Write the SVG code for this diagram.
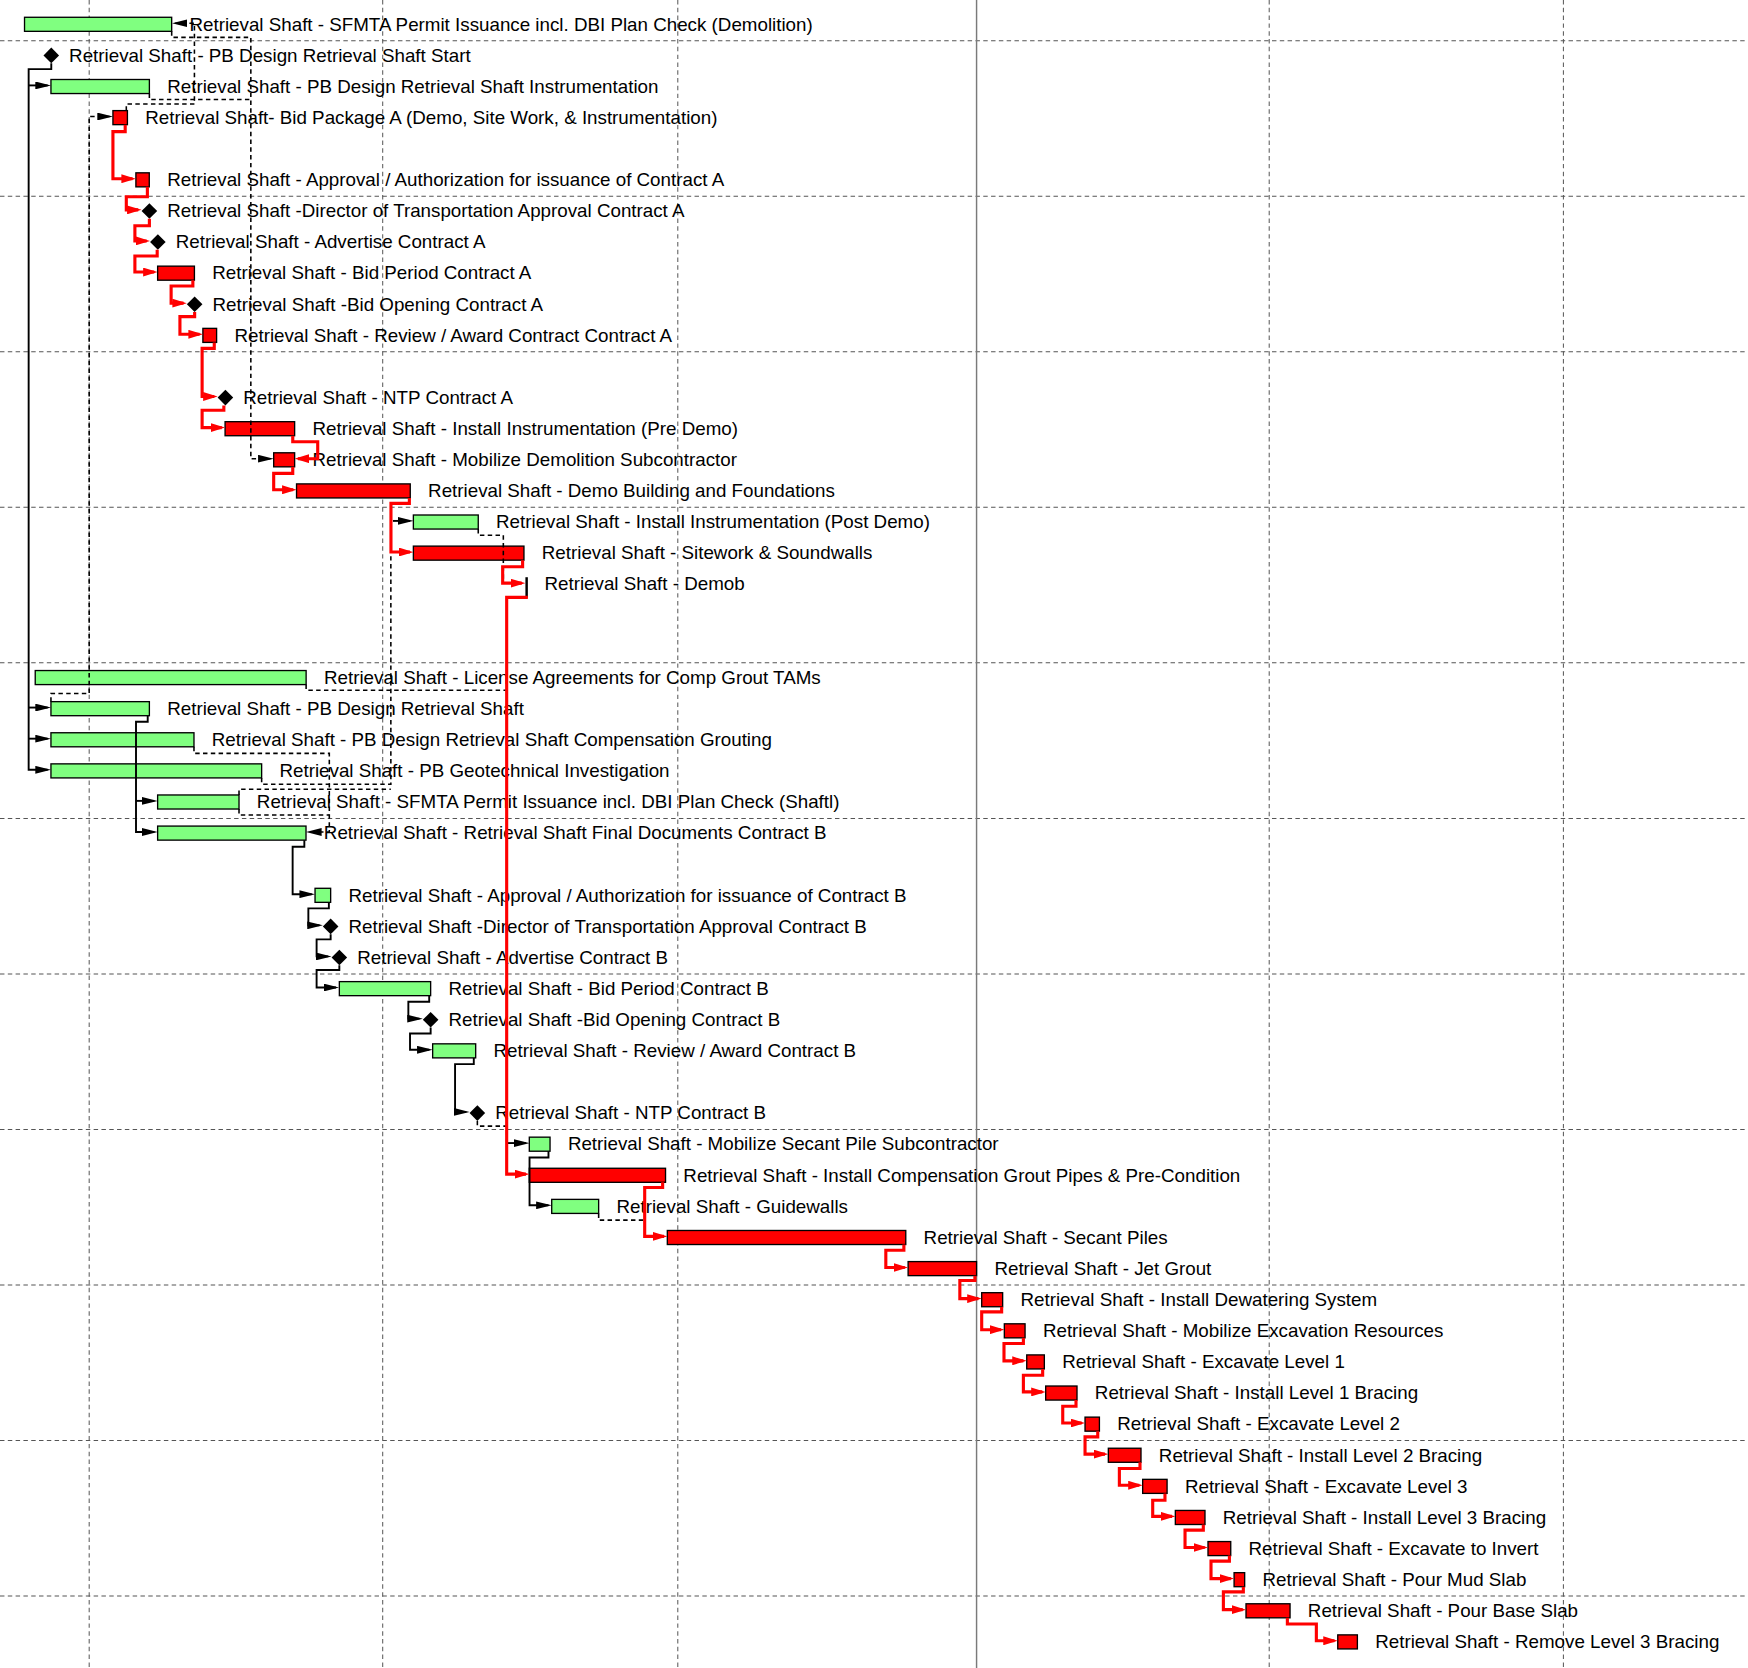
<svg xmlns="http://www.w3.org/2000/svg" width="1748" height="1668" viewBox="0 0 1748 1668">
<style>
.gl{stroke:#555;stroke-width:0.9;stroke-dasharray:4 3;fill:none}
.now{stroke:#7a7a7a;stroke-width:1.3;fill:none}
.g{fill:#80ff80;stroke:#000;stroke-width:1.2}
.r{fill:#ff0000;stroke:#000;stroke-width:1.2}
.ms{fill:#000}
text{font-family:"Liberation Sans",Arial,Helvetica,sans-serif;font-size:16.85px;fill:#000}
.lk{stroke:#000;stroke-width:1.7;fill:none;stroke-linejoin:miter}
.lkd{stroke:#000;stroke-width:1.4;fill:none;stroke-dasharray:4 3}
.cr{stroke:#ff0000;stroke-width:2.8;fill:none;stroke-linejoin:miter}
.ek{marker-end:url(#ak)}
.er{marker-end:url(#ar)}
</style>
<defs>
<marker id="ak" viewBox="0 0 14 7" refX="11" refY="3.5" markerWidth="14" markerHeight="7" markerUnits="userSpaceOnUse" orient="auto"><path d="M0,0 L14,3.5 L0,7 z" fill="#000"/></marker>
<marker id="ar" viewBox="0 0 13 8" refX="10" refY="4" markerWidth="13" markerHeight="8" markerUnits="userSpaceOnUse" orient="auto"><path d="M0,0 L13,4 L0,8 z" fill="#ff0000"/></marker>
</defs>
<rect x="0" y="0" width="1748" height="1668" fill="#fff"/>
<g transform="scale(1.11480 1.11497)">
<g id="grid">
<path class="gl" d="M80,0V1496M343.3,0V1496M608,0V1496M1138.5,0V1496M1402.4,0V1496"/>
<path class="gl" d="M0,36.5H1568M0,176H1568M0,315.5H1568M0,455H1568M0,594.5H1568M0,734H1568M0,873.5H1568M0,1013H1568M0,1152.5H1568M0,1292H1568M0,1431.5H1568"/>
<path class="now" d="M876,0V1496"/>
</g>
<g id="nodes">
<g id="n0"><rect class="g" x="22" y="15.5" width="132" height="12.6"/><text x="170" y="27.4">Retrieval Shaft - SFMTA Permit Issuance incl. DBI Plan Check (Demolition)</text></g>
<g id="n1"><polygon class="ms" points="39,49.7 46,42.7 53,49.7 46,56.7"/><text x="62" y="55.3">Retrieval Shaft - PB Design Retrieval Shaft Start</text></g>
<g id="n2"><rect class="g" x="45.7" y="71.3" width="88.3" height="12.6"/><text x="150" y="83.2">Retrieval Shaft - PB Design Retrieval Shaft Instrumentation</text></g>
<g id="n3"><rect class="r" x="101.3" y="99.2" width="13" height="12.6"/><text x="130.3" y="111.1">Retrieval Shaft- Bid Package A (Demo, Site Work, &amp; Instrumentation)</text></g>
<g id="n5"><rect class="r" x="121.9" y="155" width="12" height="12.6"/><text x="150" y="166.9">Retrieval Shaft - Approval / Authorization for issuance of Contract A</text></g>
<g id="n6"><polygon class="ms" points="127,189.2 134,182.2 141,189.2 134,196.2"/><text x="150" y="194.8">Retrieval Shaft -Director of Transportation Approval Contract A</text></g>
<g id="n7"><polygon class="ms" points="134.6,217.1 141.6,210.1 148.6,217.1 141.6,224.1"/><text x="157.6" y="222.7">Retrieval Shaft - Advertise Contract A</text></g>
<g id="n8"><rect class="r" x="141.4" y="238.7" width="33" height="12.6"/><text x="190.4" y="250.6">Retrieval Shaft - Bid Period Contract A</text></g>
<g id="n9"><polygon class="ms" points="167.6,272.9 174.6,265.9 181.6,272.9 174.6,279.9"/><text x="190.6" y="278.5">Retrieval Shaft -Bid Opening Contract A</text></g>
<g id="n10"><rect class="r" x="182" y="294.5" width="12.3" height="12.6"/><text x="210.3" y="306.4">Retrieval Shaft - Review / Award Contract Contract A</text></g>
<g id="n12"><polygon class="ms" points="195.2,356.6 202.2,349.6 209.2,356.6 202.2,363.6"/><text x="218.2" y="362.2">Retrieval Shaft - NTP Contract A</text></g>
<g id="n13"><rect class="r" x="201.9" y="378.2" width="62.4" height="12.6"/><text x="280.3" y="390.1">Retrieval Shaft - Install Instrumentation (Pre Demo)</text></g>
<g id="n14"><rect class="r" x="245.5" y="406.1" width="18.8" height="12.6"/><text x="280.3" y="418">Retrieval Shaft - Mobilize Demolition Subcontractor</text></g>
<g id="n15"><rect class="r" x="266" y="434" width="102" height="12.6"/><text x="384" y="445.9">Retrieval Shaft - Demo Building and Foundations</text></g>
<g id="n16"><rect class="g" x="370.8" y="461.9" width="58.2" height="12.6"/><text x="445" y="473.8">Retrieval Shaft - Install Instrumentation (Post Demo)</text></g>
<g id="n17"><rect class="r" x="370.8" y="489.8" width="99.2" height="12.6"/><text x="486" y="501.7">Retrieval Shaft - Sitework &amp; Soundwalls</text></g>
<g id="n18"><rect class="ms" x="471.3" y="517.7" width="2.2" height="18.3"/><text x="488.4" y="529.6">Retrieval Shaft - Demob</text></g>
<g id="n21"><rect class="g" x="31.6" y="601.4" width="243" height="12.6"/><text x="290.6" y="613.3">Retrieval Shaft - License Agreements for Comp Grout TAMs</text></g>
<g id="n22"><rect class="g" x="45.7" y="629.3" width="88.3" height="12.6"/><text x="150" y="641.2">Retrieval Shaft - PB Design Retrieval Shaft</text></g>
<g id="n23"><rect class="g" x="45.7" y="657.2" width="128.3" height="12.6"/><text x="190" y="669.1">Retrieval Shaft - PB Design Retrieval Shaft Compensation Grouting</text></g>
<g id="n24"><rect class="g" x="45.7" y="685.1" width="189" height="12.6"/><text x="250.7" y="697">Retrieval Shaft - PB Geotechnical Investigation</text></g>
<g id="n25"><rect class="g" x="141.4" y="713" width="73" height="12.6"/><text x="230.4" y="724.9">Retrieval Shaft - SFMTA Permit Issuance incl. DBI Plan Check (Shaftl)</text></g>
<g id="n26"><rect class="g" x="141.4" y="740.9" width="133.1" height="12.6"/><text x="290.5" y="752.8">Retrieval Shaft - Retrieval Shaft Final Documents Contract B</text></g>
<g id="n28"><rect class="g" x="282.6" y="796.7" width="14" height="12.6"/><text x="312.6" y="808.6">Retrieval Shaft - Approval / Authorization for issuance of Contract B</text></g>
<g id="n29"><polygon class="ms" points="289.6,830.9 296.6,823.9 303.6,830.9 296.6,837.9"/><text x="312.6" y="836.5">Retrieval Shaft -Director of Transportation Approval Contract B</text></g>
<g id="n30"><polygon class="ms" points="297.4,858.8 304.4,851.8 311.4,858.8 304.4,865.8"/><text x="320.4" y="864.4">Retrieval Shaft - Advertise Contract B</text></g>
<g id="n31"><rect class="g" x="304.4" y="880.4" width="81.9" height="12.6"/><text x="402.3" y="892.3">Retrieval Shaft - Bid Period Contract B</text></g>
<g id="n32"><polygon class="ms" points="379.3,914.6 386.3,907.6 393.3,914.6 386.3,921.6"/><text x="402.3" y="920.2">Retrieval Shaft -Bid Opening Contract B</text></g>
<g id="n33"><rect class="g" x="388.1" y="936.2" width="38.6" height="12.6"/><text x="442.7" y="948.1">Retrieval Shaft - Review / Award Contract B</text></g>
<g id="n35"><polygon class="ms" points="421.2,998.3 428.2,991.3 435.2,998.3 428.2,1005.3"/><text x="444.2" y="1003.9">Retrieval Shaft - NTP Contract B</text></g>
<g id="n36"><rect class="g" x="474.8" y="1019.9" width="18.6" height="12.6"/><text x="509.4" y="1031.8">Retrieval Shaft - Mobilize Secant Pile Subcontractor</text></g>
<g id="n37"><rect class="r" x="474.8" y="1047.8" width="122.2" height="12.6"/><text x="613" y="1059.7">Retrieval Shaft - Install Compensation Grout Pipes &amp; Pre-Condition</text></g>
<g id="n38"><rect class="g" x="494.9" y="1075.7" width="42.1" height="12.6"/><text x="553" y="1087.6">Retrieval Shaft - Guidewalls</text></g>
<g id="n39"><rect class="r" x="598.6" y="1103.6" width="213.9" height="12.6"/><text x="828.5" y="1115.5">Retrieval Shaft - Secant Piles</text></g>
<g id="n40"><rect class="r" x="814.6" y="1131.5" width="61.4" height="12.6"/><text x="892" y="1143.4">Retrieval Shaft - Jet Grout</text></g>
<g id="n41"><rect class="r" x="880.6" y="1159.4" width="18.8" height="12.6"/><text x="915.4" y="1171.3">Retrieval Shaft - Install Dewatering System</text></g>
<g id="n42"><rect class="r" x="900.9" y="1187.3" width="18.6" height="12.6"/><text x="935.5" y="1199.2">Retrieval Shaft - Mobilize Excavation Resources</text></g>
<g id="n43"><rect class="r" x="921" y="1215.2" width="15.8" height="12.6"/><text x="952.8" y="1227.1">Retrieval Shaft - Excavate Level 1</text></g>
<g id="n44"><rect class="r" x="938" y="1243.1" width="28.1" height="12.6"/><text x="982.1" y="1255">Retrieval Shaft - Install Level 1 Bracing</text></g>
<g id="n45"><rect class="r" x="973.3" y="1271" width="12.9" height="12.6"/><text x="1002.2" y="1282.9">Retrieval Shaft - Excavate Level 2</text></g>
<g id="n46"><rect class="r" x="994.2" y="1298.9" width="29.3" height="12.6"/><text x="1039.5" y="1310.8">Retrieval Shaft - Install Level 2 Bracing</text></g>
<g id="n47"><rect class="r" x="1025" y="1326.8" width="21.9" height="12.6"/><text x="1062.9" y="1338.7">Retrieval Shaft - Excavate Level 3</text></g>
<g id="n48"><rect class="r" x="1054.3" y="1354.7" width="26.6" height="12.6"/><text x="1096.9" y="1366.6">Retrieval Shaft - Install Level 3 Bracing</text></g>
<g id="n49"><rect class="r" x="1083.6" y="1382.6" width="20.4" height="12.6"/><text x="1120" y="1394.5">Retrieval Shaft - Excavate to Invert</text></g>
<g id="n50"><rect class="r" x="1107" y="1410.5" width="9.5" height="12.6"/><text x="1132.5" y="1422.4">Retrieval Shaft - Pour Mud Slab</text></g>
<g id="n51"><rect class="r" x="1117.7" y="1438.4" width="39.5" height="12.6"/><text x="1173.2" y="1450.3">Retrieval Shaft - Pour Base Slab</text></g>
<g id="n52"><rect class="r" x="1200" y="1466.3" width="17.6" height="12.6"/><text x="1233.6" y="1478.2">Retrieval Shaft - Remove Level 3 Bracing</text></g>
</g>
<g id="connectors">
<path class="lkd" d="M429,474.5V480H451.5V523"/>
<path class="lkd" d="M274.6,614V619H454.5"/>
<path class="lkd" d="M428.2,1005.3V1010H454.5V1025"/>
<path class="lkd ek" d="M154,28.1V33.5H225V411.4H242.5"/>
<path class="lkd" d="M134,83.9V89.2H225"/>
<path class="lkd ek" d="M113.3,99.2V93.3H174.4V20.8H157.1"/>
<path class="lkd ek" d="M45.7,629.3V622H80V104.5H98.3"/>
<path class="lkd ek" d="M174,669.8V675.7H295.4V746.2H277.5"/>
<path class="lkd" d="M234.7,697.7V703.3H350.6V494"/>
<path class="lkd" d="M214.4,713V707.9H350.6"/>
<path class="lkd" d="M214.4,725.6V731H295.4"/>
<path class="lkd" d="M537,1088.3V1094.3H578.3"/>
<path class="lk ek" d="M46,56.7V62H25.7V690.4H42.7"/>
<path class="lk ek" d="M25.7,76.6H42.7"/>
<path class="lk ek" d="M25.7,634.6H42.7"/>
<path class="lk ek" d="M25.7,662.5H42.7"/>
<path class="lk ek" d="M132.5,641.9V647.3H122V746.2H138.4"/>
<path class="lk ek" d="M122,718.3H138.4"/>
<path class="lk ek" d="M352.5,467.2H367.8"/>
<path class="lk ek" d="M273,753.5V759.4H262.5V802H279.6"/>
<path class="lk ek" d="M295,809.3V814.7H276.6V829.9H286.6"/>
<path class="lk ek" d="M296.6,837.9V842.5H284V857.8H294.4"/>
<path class="lk ek" d="M304.4,865.8V870H284V885.7H301.4"/>
<path class="lk ek" d="M385,893V898.5H366.3V913.6H376.3"/>
<path class="lk ek" d="M386.3,921.6V926.9H367.8V941.5H385.1"/>
<path class="lk ek" d="M425,948.8V954.4H408.2V997.3H418.2"/>
<path class="lk ek" d="M454.5,1025.2H471.8"/>
<path class="lk ek" d="M492,1032.5V1038.1H475V1081H491.9"/>
<path class="cr er" d="M112.3,111.8V118H101.3V160.3H118.9"/>
<path class="cr er" d="M132.2,167.6V176.5H113.3V188.2H124"/>
<path class="cr er" d="M134,196.2V202.5H121V216.1H131.6"/>
<path class="cr er" d="M141,224V229.6H121V244H138.4"/>
<path class="cr er" d="M173,251.3V256.5H153.5V271.9H164.6"/>
<path class="cr er" d="M174.6,279.9V284H161.4V299.8H179"/>
<path class="cr er" d="M192.2,307.1V312.5H181.3V355.6H192.2"/>
<path class="cr er" d="M200.8,363.6V368H181.3V383.5H198.9"/>
<path class="cr er" d="M262.6,390.8V396.2H285V411.4H267.3"/>
<path class="cr er" d="M262.6,418.7V424.6H245.5V439.3H263"/>
<path class="cr er" d="M367.2,446.6V451.5H350.7V495.1H367.8"/>
<path class="cr er" d="M468.8,502.4V508.3H450.9V523H468"/>
<path class="cr er" d="M473.5,535.8H454.5V1053.1H471.8"/>
<path class="cr er" d="M594.4,1060.4V1065H578.3V1108.9H595.6"/>
<path class="cr er" d="M810.8,1116.2V1121.3H794.6V1136.8H811.6"/>
<path class="cr er" d="M874.5,1144.1V1148.5H861V1164.7H877.6"/>
<path class="cr er" d="M898.5,1172V1176.6H880.6V1192.6H897.9"/>
<path class="cr er" d="M918,1199.9V1205H900.6V1220.5H918"/>
<path class="cr er" d="M935.3,1227.8V1233.4H918V1248.4H935"/>
<path class="cr er" d="M965.2,1255.7V1261.2H953.3V1276.3H970.3"/>
<path class="cr er" d="M984.7,1283.6V1288.7H973.3V1304.2H991.2"/>
<path class="cr er" d="M1022.6,1311.5V1317.1H1004.1V1332.1H1022"/>
<path class="cr er" d="M1045,1339.4V1345.5H1034V1360H1051.3"/>
<path class="cr er" d="M1079.4,1367.3V1372.4H1063V1387.9H1080.6"/>
<path class="cr er" d="M1102.8,1395.2V1400.2H1086.3V1415.8H1104"/>
<path class="cr er" d="M1115.3,1423.1V1427.7H1097.4V1443.7H1114.7"/>
<path class="cr er" d="M1154.8,1451V1456.5H1180.8V1471.6H1197"/>
</g>
</g>
</svg>
